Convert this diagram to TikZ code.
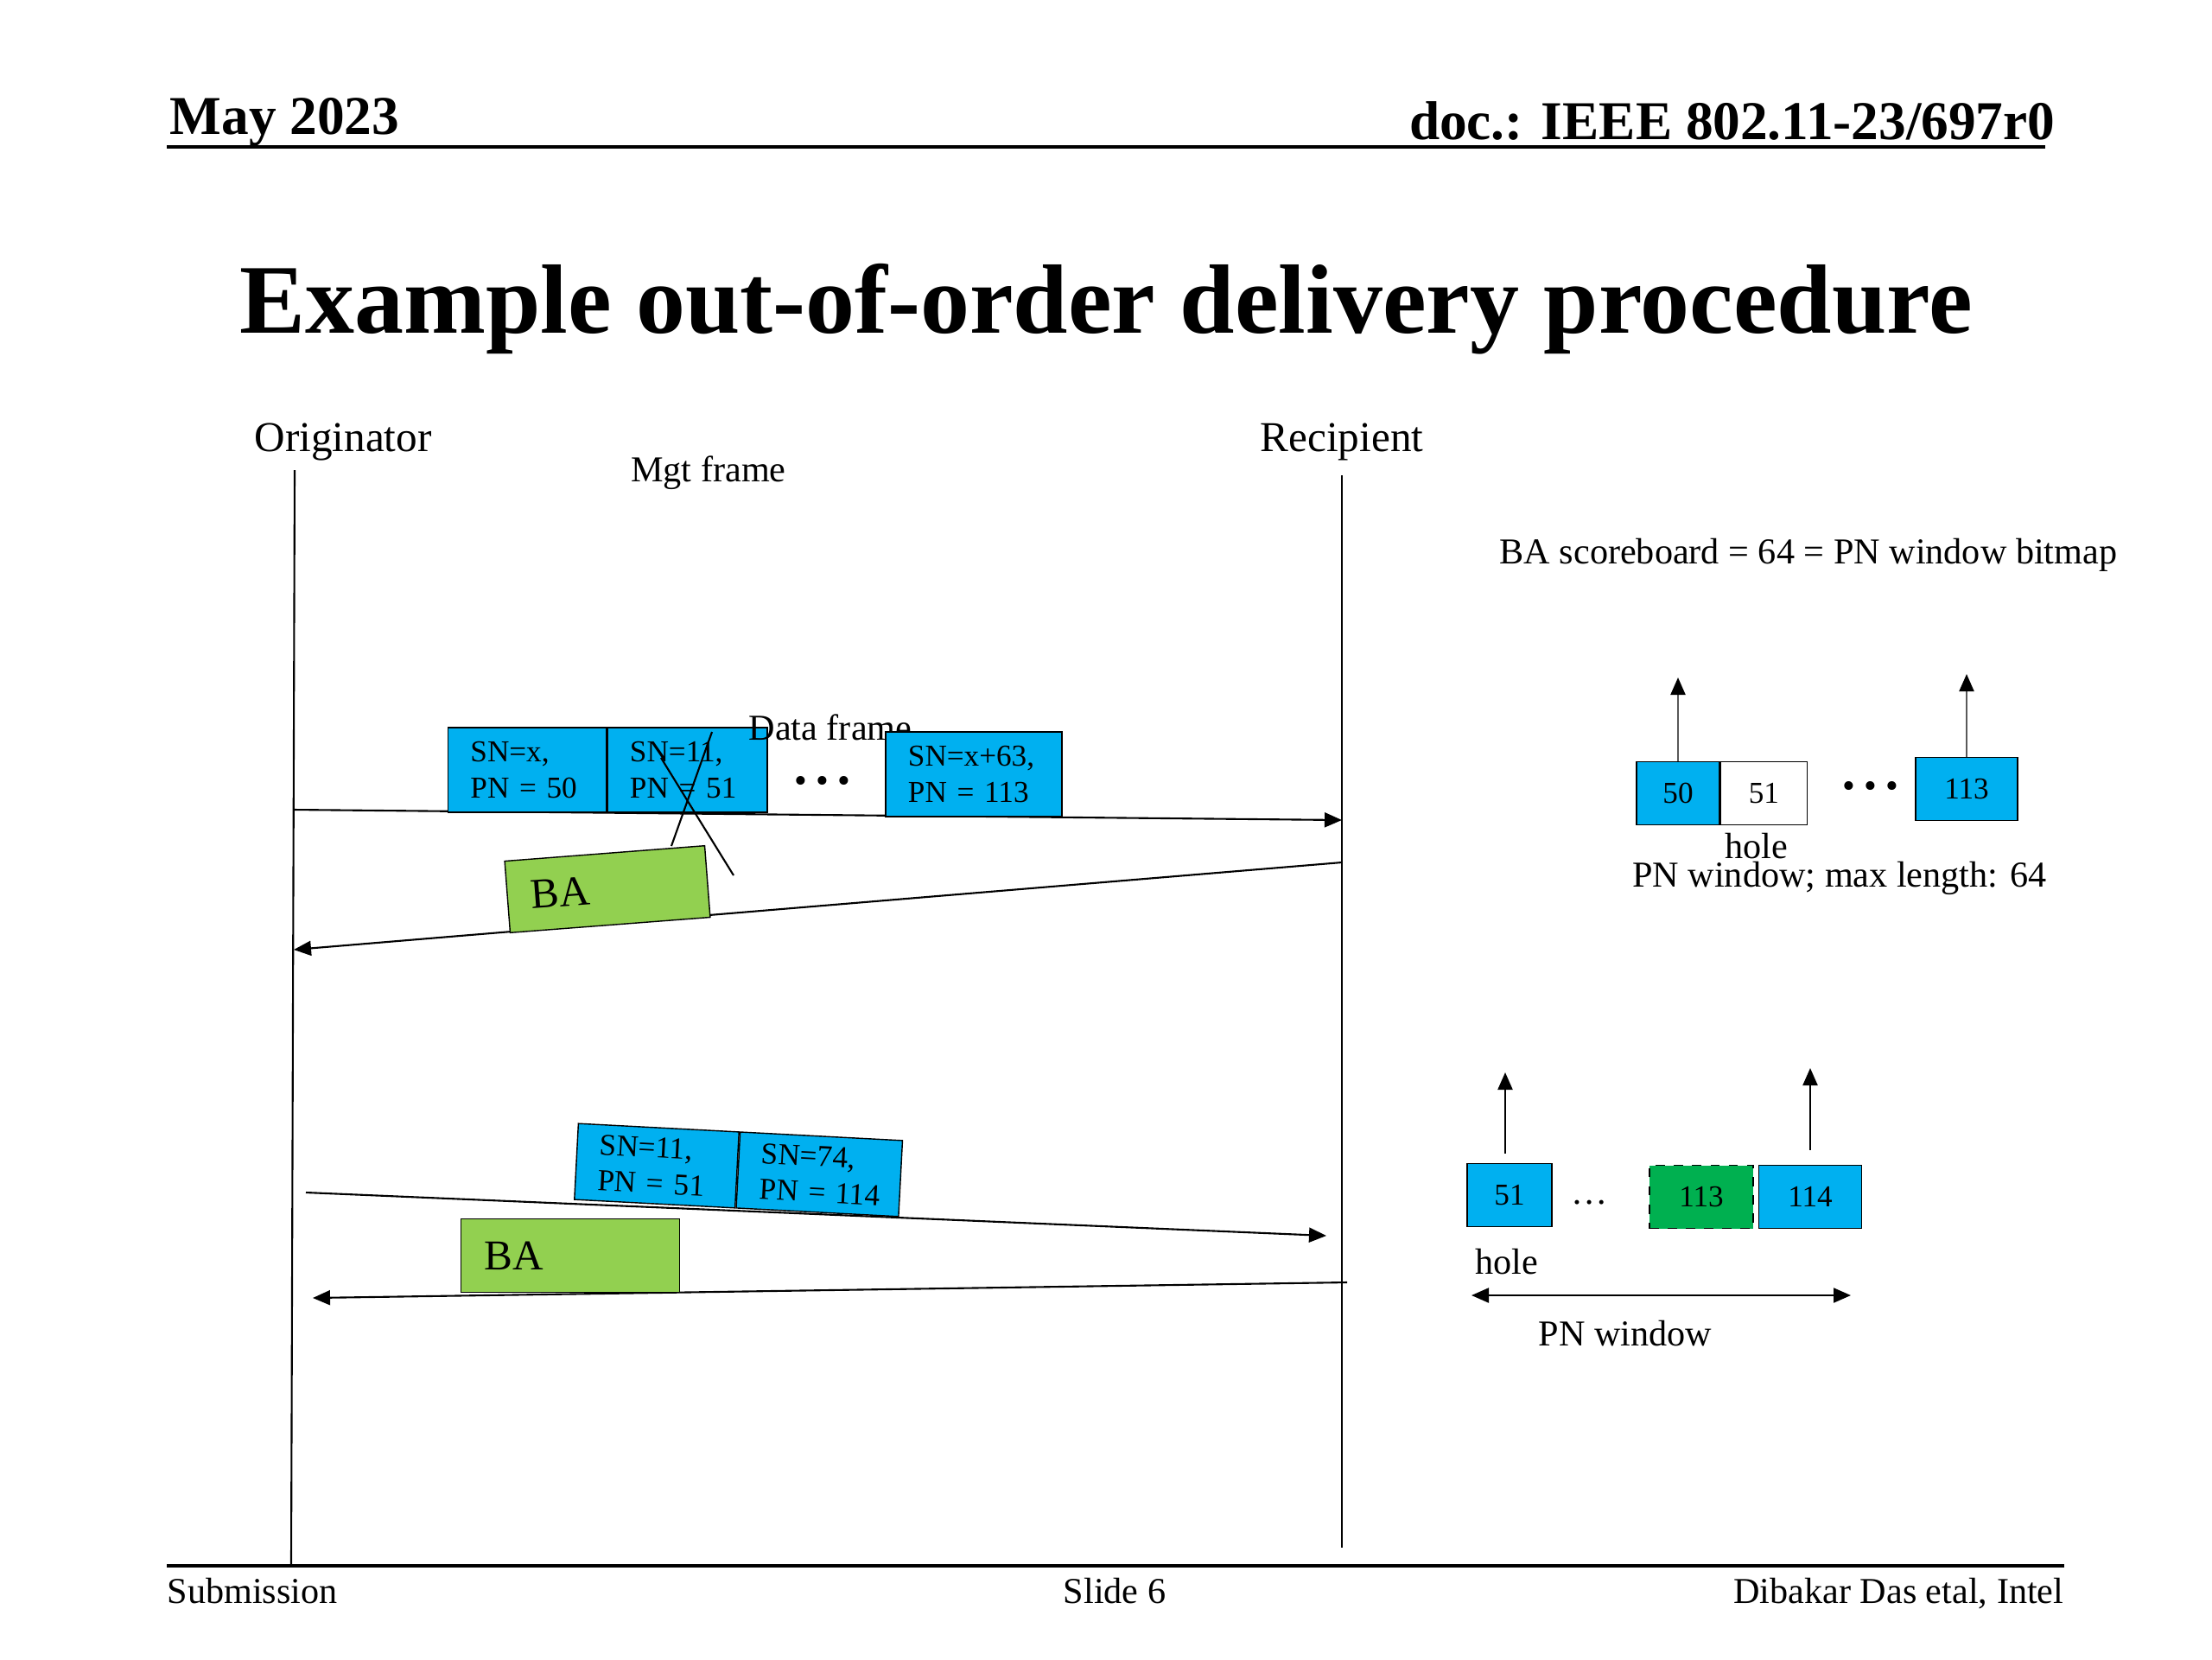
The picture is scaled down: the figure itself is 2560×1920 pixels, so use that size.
\documentclass[tikz,border=0pt]{standalone}
\usepackage{fontspec}
\setmainfont{Liberation Serif}
\usepackage{xcolor}
\usetikzlibrary{arrows.meta,positioning}
\definecolor{pktblue}{HTML}{00B0F0}
\definecolor{bagreen}{HTML}{92D050}
\definecolor{rxgreen}{HTML}{00B050}

\begin{document}
\begin{tikzpicture}[x=0.01cm, y=-0.01cm,
txt/.style={inner sep=0pt, font=\fontsize{12}{14}\selectfont},
actor/.style={inner sep=0pt, font=\fontsize{14}{16}\selectfont},
pkt/.style={draw, fill=pktblue, align=left, inner xsep=0.26cm, inner ysep=0pt, font=\fontsize{10}{11.8}\selectfont},
ba/.style={draw, fill=bagreen, align=left, inner xsep=0.27cm, inner ysep=0pt, font=\fontsize{14}{16}\selectfont},
cell/.style={draw, fill=pktblue, inner sep=0pt, minimum height=0.73cm, font=\fontsize{10}{12}\selectfont},
arrow/.style={-{Triangle[length=0.2cm, width=0.17cm, color=black]}, line width=0.6pt},
life/.style={line width=0.6pt},
rule/.style={line width=1.3pt}
]
\useasboundingbox (0,0) rectangle (2560,1920);
\node[anchor=base west, inner sep=0pt, font=\fontsize{18}{20}\selectfont\bfseries] (date) at (196,155) {May 2023};
\node[anchor=base east, inner sep=0pt, font=\fontsize{18}{20}\selectfont\bfseries] (docid) at (2379,161) {doc.: IEEE 802.11-23/697r0};
\coordinate (hl) at (193,170);
\coordinate (hr) at (2367,170);
\draw[rule] (hl) -- (hr);
\node[anchor=base, inner sep=0pt, font=\fontsize{32.4}{36}\selectfont\bfseries] (title) at (1280,385) {Example out-of-order delivery procedure};
\coordinate (fl) at (193,1812);
\coordinate (fr) at (2389,1812);
\draw[rule] (fl) -- (fr);
\node[txt, anchor=base west] (sub) at (193,1855) {Submission};
\node[txt, anchor=base] (slide) at (1290,1855) {Slide 6};
\node[txt, anchor=base east] (auth) at (2389,1855) {Dibakar Das etal, Intel};

\node[actor] (orig) at (397,511) {Originator};
\node[actor] (recip) at (1553,511) {Recipient};
\coordinate (ot) at (341,544);
\coordinate (ob) at (337,1810);
\coordinate (rt) at (1553,550);
\coordinate (rb) at (1553,1791);
\draw[life] (ot) -- (ob);
\draw[life] (rt) -- (rb);
\node[txt] (mgt) at (820,547) {Mgt frame};

\coordinate (o1) at (340,937);
\coordinate (r1) at (1553,949);
\coordinate (r2) at (1553,998);
\coordinate (o2) at (340,1099);
\draw[arrow] (o1) -- (r1);
\draw[arrow] (r2) -- (o2);
\node[pkt, text width=1.31cm, minimum height=0.98cm] (f1) at (610,891) {SN=x,\\PN = 50};
\node[pkt, text width=1.33cm, minimum height=0.98cm, right=0pt of f1] (f2) {SN=11,\\PN = 51};
\node[txt] (dfr) at (961,842) {Data frame};
\node[pkt, text width=1.52cm, minimum height=0.98cm] (f3) at (1127,896) {SN=x+63,\\PN = 113};
\node[txt] (dots1) at (952,908) {\textbullet\ \textbullet\ \textbullet};
\node[ba, rotate=4.4, text width=1.78cm, minimum height=0.83cm] (ba1) at (703,1029) {BA};
\coordinate (x1a) at (824,847);
\coordinate (x1b) at (777,979);
\coordinate (x2a) at (765,877);
\coordinate (x2b) at (849,1013);
\draw[life] (x1a) -- (x1b);
\draw[life] (x2a) -- (x2b);

\coordinate (o3) at (354,1380);
\coordinate (r3) at (1535,1430);
\coordinate (r4) at (1559,1484);
\coordinate (o4) at (362,1502);
\draw[arrow] (o3) -- (r3);
\draw[arrow] (r4) -- (o4);
\node[pkt, rotate=-3, text width=1.34cm, minimum height=0.88cm] (fa) at (760,1349) {SN=11,\\PN = 51};
\node[pkt, rotate=-3, text width=1.36cm, minimum height=0.88cm, right=0pt of fa] (fb) {SN=74,\\\mbox{PN = 114}};
\node[ba, text width=1.99cm, minimum height=0.85cm] (ba2) at (660,1453) {BA};

\node[txt] (score) at (2093,642) {BA scoreboard = 64 = PN window bitmap};
\node[cell, minimum width=0.96cm] (c50) at (1942,918) {50};
\node[cell, fill=white, minimum width=1.0cm, right=0pt of c50] (c51) {51};
\node[txt] (dots2) at (2165,914) {\textbullet\ \textbullet\ \textbullet};
\node[cell, minimum width=1.18cm] (c113) at (2276,913) {113};
\coordinate (up50) at (1942,784);
\coordinate (up113) at (2276,780);
\draw[arrow, draw=black!65] (c50) -- (up50);
\draw[arrow, draw=black!65] (c113) -- (up113);
\node[txt] (hole1) at (2033,979) {hole};
\node[txt] (pnmax) at (2129,1016) {PN window; max length: 64};

\node[cell, minimum width=0.98cm] (d51) at (1747,1383) {51};
\node[txt] (dots3) at (1840,1392) {\dots};
\node[cell, fill=rxgreen, dashed, minimum width=1.2cm] (d113) at (1969,1385) {113};
\node[cell, minimum width=1.19cm, right=0.05cm of d113] (d114) {114};
\coordinate (up51) at (1742,1241);
\coordinate (up114) at (2095,1236);
\draw[arrow, shorten <=0.11cm] (d51.north -| up51) -- (up51);
\draw[arrow, shorten <=0.17cm] (d114.north -| up114) -- (up114);
\node[txt] (hole2) at (1744,1460) {hole};
\coordinate (pwl) at (1703,1499);
\coordinate (pwr) at (2142,1499);
\draw[arrow, {Triangle[length=0.2cm, width=0.17cm]}-{Triangle[length=0.2cm, width=0.17cm]}] (pwl) -- (pwr);
\node[txt] (pnwin) at (1881,1543) {PN window};
\end{tikzpicture}
\end{document}
